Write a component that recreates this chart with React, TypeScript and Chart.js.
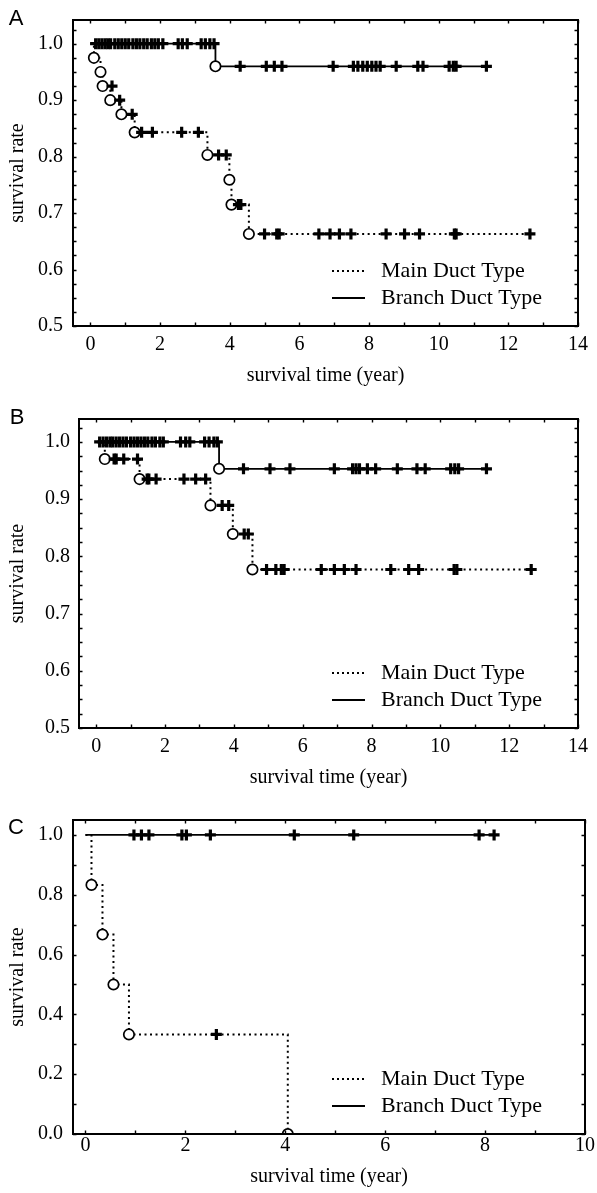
import React, { useEffect, useRef } from "react";
import { Chart, registerables } from "chart.js";

Chart.register(...registerables);

// ---------------- Panel A ----------------
const A_MAIN_EVENT_T = [0.1, 0.29, 0.35, 0.57, 0.89, 1.27, 3.36, 3.99, 4.05, 4.55];
const A_MAIN_EVENT_S = [0.975, 0.95, 0.925, 0.9, 0.875, 0.843, 0.803, 0.759, 0.715, 0.663];
const A_MAIN_CENSOR_T = [0.62, 0.84, 1.2, 1.47, 1.78, 2.62, 3.1, 3.68, 3.9, 4.25, 4.32, 5.0, 5.35, 5.42, 6.56, 6.88, 7.15, 7.48, 8.49, 9.02, 9.45, 10.45, 10.5, 12.62];
const A_MAIN_CENSOR_S = [0.925, 0.9, 0.875, 0.843, 0.843, 0.843, 0.843, 0.803, 0.803, 0.715, 0.715, 0.663, 0.663, 0.663, 0.663, 0.663, 0.663, 0.663, 0.663, 0.663, 0.663, 0.663, 0.663, 0.663];
const A_MAIN_END = 12.62;
const A_BRANCH_EVENT_T = [3.59];
const A_BRANCH_EVENT_S = [0.96];
const A_BRANCH_CENSOR_T = [0.15, 0.24, 0.33, 0.42, 0.5, 0.58, 0.7, 0.8, 0.9, 1.0, 1.1, 1.22, 1.32, 1.42, 1.53, 1.63, 1.75, 1.85, 1.95, 2.08, 2.52, 2.64, 2.78, 3.18, 3.3, 3.43, 3.55, 4.3, 5.05, 5.28, 5.5, 6.97, 7.55, 7.68, 7.82, 7.95, 8.08, 8.2, 8.32, 8.78, 9.4, 9.55, 10.3, 10.42, 10.5, 11.37];
const A_BRANCH_CENSOR_S = [1, 1, 1, 1, 1, 1, 1, 1, 1, 1, 1, 1, 1, 1, 1, 1, 1, 1, 1, 1, 1, 1, 1, 1, 1, 1, 1, 0.96, 0.96, 0.96, 0.96, 0.96, 0.96, 0.96, 0.96, 0.96, 0.96, 0.96, 0.96, 0.96, 0.96, 0.96, 0.96, 0.96, 0.96, 0.96];
const A_BRANCH_END = 11.37;
const A_X_TICKS = [0, 2, 4, 6, 8, 10, 12, 14];
const A_Y_TICKS = [0.5, 0.6, 0.7, 0.8, 0.9, 1.0];

// ---------------- Panel B ----------------
const B_MAIN_EVENT_T = [0.25, 1.26, 3.32, 3.97, 4.54];
const B_MAIN_EVENT_S = [0.97, 0.935, 0.889, 0.839, 0.777];
const B_MAIN_CENSOR_T = [0.52, 0.58, 0.8, 1.2, 1.48, 1.53, 1.74, 2.55, 2.89, 3.18, 3.66, 3.85, 4.3, 4.42, 4.95, 5.22, 5.38, 5.46, 6.54, 6.92, 7.21, 7.55, 8.56, 9.08, 9.37, 10.4, 10.48, 12.64];
const B_MAIN_CENSOR_S = [0.97, 0.97, 0.97, 0.97, 0.935, 0.935, 0.935, 0.935, 0.935, 0.935, 0.889, 0.889, 0.839, 0.839, 0.777, 0.777, 0.777, 0.777, 0.777, 0.777, 0.777, 0.777, 0.777, 0.777, 0.777, 0.777, 0.777, 0.777];
const B_MAIN_END = 12.64;
const B_BRANCH_EVENT_T = [3.57];
const B_BRANCH_EVENT_S = [0.953];
const B_BRANCH_CENSOR_T = [0.1, 0.2, 0.3, 0.4, 0.48, 0.58, 0.68, 0.78, 0.88, 1.0, 1.1, 1.2, 1.3, 1.4, 1.5, 1.62, 1.72, 1.85, 1.95, 2.45, 2.6, 2.72, 3.15, 3.28, 3.42, 3.52, 4.28, 5.05, 5.63, 6.92, 7.45, 7.55, 7.65, 7.88, 8.12, 8.75, 9.32, 9.56, 10.3, 10.42, 10.53, 11.34];
const B_BRANCH_CENSOR_S = [1, 1, 1, 1, 1, 1, 1, 1, 1, 1, 1, 1, 1, 1, 1, 1, 1, 1, 1, 1, 1, 1, 1, 1, 1, 1, 0.953, 0.953, 0.953, 0.953, 0.953, 0.953, 0.953, 0.953, 0.953, 0.953, 0.953, 0.953, 0.953, 0.953, 0.953, 0.953];
const B_BRANCH_END = 11.34;
const B_X_TICKS = [0, 2, 4, 6, 8, 10, 12, 14];
const B_Y_TICKS = [0.5, 0.6, 0.7, 0.8, 0.9, 1.0];

// ---------------- Panel C ----------------
const C_MAIN_EVENT_T = [0.12, 0.34, 0.56, 0.87, 4.05];
const C_MAIN_EVENT_S = [0.833, 0.667, 0.5, 0.333, 0.0];
const C_MAIN_CENSOR_T = [2.62];
const C_MAIN_CENSOR_S = [0.333];
const C_MAIN_END = 4.05;
const C_BRANCH_EVENT_T: number[] = [];
const C_BRANCH_EVENT_S: number[] = [];
const C_BRANCH_CENSOR_T = [0.97, 1.12, 1.27, 1.93, 2.02, 2.5, 4.18, 5.37, 7.88, 8.18];
const C_BRANCH_CENSOR_S = [1, 1, 1, 1, 1, 1, 1, 1, 1, 1];
const C_BRANCH_END = 8.18;
const C_X_TICKS = [0, 2, 4, 6, 8, 10];
const C_Y_TICKS = [0.0, 0.2, 0.4, 0.6, 0.8, 1.0];

const LEGEND_LABELS = ["Main Duct Type", "Branch Duct Type"];
const X_TITLE = "survival time (year)";
const Y_TITLE = "survival rate";

const SERIF = "'Liberation Serif', 'Times New Roman', serif";
const SANS = "'Liberation Sans', Arial, sans-serif";

type Group = { evT: number[]; evS: number[]; cT: number[]; cS: number[]; end: number };
type Panel = {
  letter: string;
  top: number;
  height: number;
  plotLeft: number;
  plotRight: number;
  plotTop: number;
  plotBottom: number;
  xMin: number;
  xMax: number;
  yMin: number;
  yMax: number;
  xTicks: number[];
  yTicks: number[];
  yMinor: number;
  xTickPad: number;
  yTickPad: number;
  xTitlePad: number;
  yTitlePad: number;
  letterX: number;
  letterY: number;
  main: Group;
  branch: Group;
};

const PANELS: Panel[] = [
  {
    letter: "A", top: 0, height: 390,
    plotLeft: 73, plotRight: 587, plotTop: 9, plotBottom: 326,
    xMin: -0.5, xMax: 14, yMin: 0.5, yMax: 1.042,
    xTicks: A_X_TICKS, yTicks: A_Y_TICKS, yMinor: 0.025,
    xTickPad: 9, yTickPad: 10, xTitlePad: 4, yTitlePad: 8,
    letterX: 16, letterY: 19,
    main: { evT: A_MAIN_EVENT_T, evS: A_MAIN_EVENT_S, cT: A_MAIN_CENSOR_T, cS: A_MAIN_CENSOR_S, end: A_MAIN_END },
    branch: { evT: A_BRANCH_EVENT_T, evS: A_BRANCH_EVENT_S, cT: A_BRANCH_CENSOR_T, cS: A_BRANCH_CENSOR_S, end: A_BRANCH_END },
  },
  {
    letter: "B", top: 390, height: 410,
    plotLeft: 79, plotRight: 583, plotTop: 29, plotBottom: 338,
    xMin: -0.5, xMax: 14, yMin: 0.5, yMax: 1.04,
    xTicks: B_X_TICKS, yTicks: B_Y_TICKS, yMinor: 0.025,
    xTickPad: 9, yTickPad: 9, xTitlePad: 12, yTitlePad: 8,
    letterX: 17, letterY: 28,
    main: { evT: B_MAIN_EVENT_T, evS: B_MAIN_EVENT_S, cT: B_MAIN_CENSOR_T, cS: B_MAIN_CENSOR_S, end: B_MAIN_END },
    branch: { evT: B_BRANCH_EVENT_T, evS: B_BRANCH_EVENT_S, cT: B_BRANCH_CENSOR_T, cS: B_BRANCH_CENSOR_S, end: B_BRANCH_END },
  },
  {
    letter: "C", top: 800, height: 393,
    plotLeft: 73, plotRight: 588, plotTop: 18, plotBottom: 334,
    xMin: -0.25, xMax: 10, yMin: 0, yMax: 1.05,
    xTicks: C_X_TICKS, yTicks: C_Y_TICKS, yMinor: 0.1,
    xTickPad: 2, yTickPad: 10, xTitlePad: 6, yTitlePad: 8,
    letterX: 16, letterY: 28,
    main: { evT: C_MAIN_EVENT_T, evS: C_MAIN_EVENT_S, cT: C_MAIN_CENSOR_T, cS: C_MAIN_CENSOR_S, end: C_MAIN_END },
    branch: { evT: C_BRANCH_EVENT_T, evS: C_BRANCH_EVENT_S, cT: C_BRANCH_CENSOR_T, cS: C_BRANCH_CENSOR_S, end: C_BRANCH_END },
  },
];

function kmLine(g: Group) {
  const pts: { x: number; y: number }[] = [{ x: 0, y: 1 }];
  g.evT.forEach((t, i) => pts.push({ x: t, y: g.evS[i] }));
  const last = pts[pts.length - 1];
  if (g.end > last.x) pts.push({ x: g.end, y: last.y });
  return pts;
}

function pairs(xs: number[], ys: number[]) {
  return xs.map((x, i) => ({ x, y: ys[i] }));
}

function makeDecor(p: Panel) {
  return {
    id: "kmDecor" + p.letter,
    afterDraw(chart: any) {
      const ctx = chart.ctx as CanvasRenderingContext2D;
      const { left, right, top, bottom } = chart.chartArea;
      const xs = chart.scales.x;
      const ys = chart.scales.y;
      ctx.save();
      ctx.strokeStyle = "#000";
      ctx.fillStyle = "#000";
      ctx.setLineDash([]);
      // minor ticks, inward
      ctx.lineWidth = 1.4;
      const xLast = p.xTicks[p.xTicks.length - 1];
      for (let v = 0; v <= xLast + 1e-9; v += 1) {
        const px = Math.round(xs.getPixelForValue(v)) + 0.5;
        ctx.beginPath();
        ctx.moveTo(px, bottom);
        ctx.lineTo(px, bottom - 3.5);
        ctx.moveTo(px, top);
        ctx.lineTo(px, top + 3.5);
        ctx.stroke();
      }
      const ny = Math.floor((p.yMax - p.yMin) / p.yMinor + 1e-6);
      for (let i = 0; i <= ny; i++) {
        const v = p.yMin + i * p.yMinor;
        const py = Math.round(ys.getPixelForValue(v)) + 0.5;
        ctx.beginPath();
        ctx.moveTo(left, py);
        ctx.lineTo(left + 3.5, py);
        ctx.moveTo(right, py);
        ctx.lineTo(right - 3.5, py);
        ctx.stroke();
      }
      // frame
      ctx.lineWidth = 2;
      ctx.strokeRect(left, top, right - left, bottom - top);
      // legend
      const rows = [bottom - 55, bottom - 28];
      ctx.lineWidth = 2;
      ctx.setLineDash([2, 3]);
      ctx.beginPath();
      ctx.moveTo(332, rows[0]);
      ctx.lineTo(365, rows[0]);
      ctx.stroke();
      ctx.setLineDash([]);
      ctx.beginPath();
      ctx.moveTo(332, rows[1]);
      ctx.lineTo(365, rows[1]);
      ctx.stroke();
      ctx.font = `22px ${SERIF}`;
      ctx.textAlign = "left";
      ctx.textBaseline = "middle";
      ctx.fillText(LEGEND_LABELS[0], 381, rows[0]);
      ctx.fillText(LEGEND_LABELS[1], 381, rows[1]);
      // panel letter
      ctx.font = `22px ${SANS}`;
      ctx.textAlign = "center";
      ctx.fillText(p.letter, p.letterX, p.letterY);
      ctx.restore();
    },
  };
}

function KMPanel({ p }: { p: Panel }) {
  const ref = useRef<HTMLCanvasElement | null>(null);
  useEffect(() => {
    if (!ref.current) return;
    const circle = {
      pointStyle: "circle" as const,
      pointRadius: 5.2,
      pointBorderWidth: 1.7,
      pointBackgroundColor: "#fff",
      pointBorderColor: "#000",
      showLine: false,
    };
    const cross = {
      pointStyle: "cross" as const,
      pointRadius: 5.5,
      pointBorderWidth: 3.2,
      pointBorderColor: "#000",
      pointBackgroundColor: "#000",
      showLine: false,
    };
    const chart = new Chart(ref.current, {
      type: "line",
      data: {
        datasets: [
          { label: "mainCensor", data: pairs(p.main.cT, p.main.cS), order: 0, ...cross },
          { label: "branchCensor", data: pairs(p.branch.cT, p.branch.cS), order: 0, ...cross },
          { label: "mainEvent", data: pairs(p.main.evT, p.main.evS), order: 1, ...circle },
          { label: "branchEvent", data: pairs(p.branch.evT, p.branch.evS), order: 1, ...circle },
          {
            label: LEGEND_LABELS[0],
            data: kmLine(p.main),
            order: 2,
            stepped: "before",
            borderColor: "#000",
            borderWidth: 2,
            borderDash: [2, 3.5],
            pointRadius: 0,
            fill: false,
          },
          {
            label: LEGEND_LABELS[1],
            data: kmLine(p.branch),
            order: 2,
            stepped: "before",
            borderColor: "#000",
            borderWidth: 1.8,
            pointRadius: 0,
            fill: false,
          },
        ] as any,
      },
      options: {
        responsive: false,
        animation: false,
        events: [],
        layout: { padding: { top: p.plotTop, right: 597 - p.plotRight, left: 0, bottom: 0 } },
        plugins: { legend: { display: false }, tooltip: { enabled: false } },
        scales: {
          x: {
            type: "linear",
            min: p.xMin,
            max: p.xMax,
            grid: { display: false, drawTicks: false },
            border: { display: false },
            afterBuildTicks: (s: any) => {
              s.ticks = p.xTicks.map((v) => ({ value: v }));
            },
            afterFit: (s: any) => {
              s.height = p.height - p.plotBottom;
            },
            ticks: {
              color: "#000",
              maxRotation: 0,
              autoSkip: false,
              padding: p.xTickPad,
              font: { family: SERIF, size: 20, lineHeight: 1 },
              callback: (v: any) => String(v),
            },
            title: {
              display: true,
              text: X_TITLE,
              color: "#000",
              font: { family: SERIF, size: 20, lineHeight: 1 },
              padding: { top: 0, bottom: p.xTitlePad },
            },
          },
          y: {
            type: "linear",
            min: p.yMin,
            max: p.yMax,
            grid: { display: false, drawTicks: false },
            border: { display: false },
            afterBuildTicks: (s: any) => {
              s.ticks = p.yTicks.map((v) => ({ value: v }));
            },
            afterFit: (s: any) => {
              s.width = p.plotLeft;
            },
            ticks: {
              color: "#000",
              autoSkip: false,
              padding: p.yTickPad,
              font: { family: SERIF, size: 20, lineHeight: 1 },
              callback: (v: any) => Number(v).toFixed(1),
            },
            title: {
              display: true,
              text: Y_TITLE,
              color: "#000",
              font: { family: SERIF, size: 20, lineHeight: 1 },
              padding: { top: p.yTitlePad, bottom: 0 },
            },
          },
        },
      },
      plugins: [makeDecor(p)],
    });
    return () => chart.destroy();
  }, [p]);
  return (
    <canvas
      ref={ref}
      width={597}
      height={p.height}
      style={{ position: "absolute", left: 0, top: p.top, width: 597, height: p.height }}
    />
  );
}

export default function App() {
  return (
    <div style={{ position: "absolute", left: 0, top: 0, width: 597, height: 1193, background: "#fff" }}>
      {PANELS.map((p) => (
        <KMPanel key={p.letter} p={p} />
      ))}
    </div>
  );
}
